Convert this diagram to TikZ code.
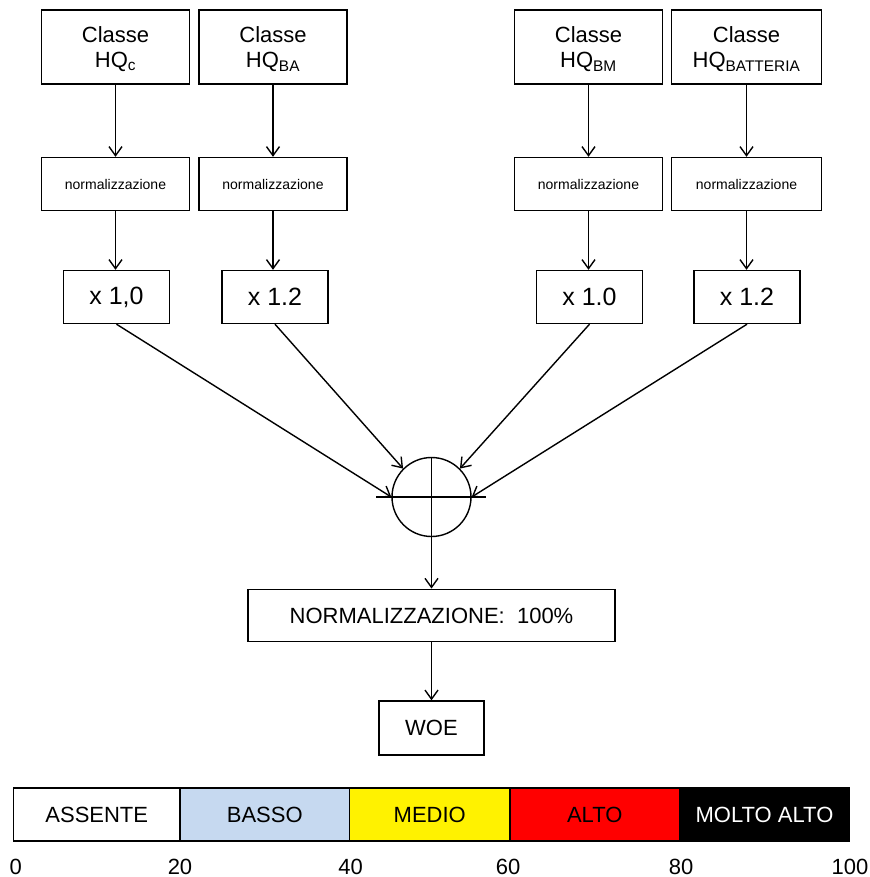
\documentclass[tikz,border=0pt]{standalone}
\usepackage{fontspec}
\setmainfont{Liberation Sans}
\usetikzlibrary{arrows.meta}
\definecolor{azzurro}{RGB}{198,217,240}
\begin{document}
\begin{tikzpicture}[x=1pt,y=-1pt,line width=1.4pt,>={Straight Barb[length=9pt,width=13pt]},font=\fontsize{22}{25.5}\selectfont,
	classe/.style={draw,align=center,minimum width=148pt,minimum height=74pt,inner sep=0pt,text depth=0pt},
	normbox/.style={draw,minimum width=148pt,minimum height=53pt,font=\fontsize{14}{16}\selectfont},
	pesobox/.style={draw,minimum width=106pt,minimum height=53pt,font=\fontsize{25}{30}\selectfont}]
	\useasboundingbox (0,0) rectangle (869,877);
	% classi
	\node[classe] (hqc) at (115.5,47) {Classe\\HQ\textsubscript{c}};
	\node[classe] (hqba) at (273,47) {Classe\\HQ\textsubscript{BA}};
	\node[classe] (hqbm) at (588.5,47) {Classe\\HQ\textsubscript{BM}};
	\node[classe,minimum width=150pt] (hqbat) at (746.5,47) {Classe\\HQ\textsubscript{BATTERIA}};
	% normalizzazione
	\node[normbox] (nc) at (115.5,184) {normalizzazione};
	\node[normbox] (nba) at (273,184) {normalizzazione};
	\node[normbox] (nbm) at (588.5,184) {normalizzazione};
	\node[normbox,minimum width=150pt] (nbat) at (746.5,184) {normalizzazione};
	% pesi
	\node[pesobox] (pc) at (116.5,297) {x 1,0};
	\node[pesobox] (pba) at (275,297) {x 1.2};
	\node[pesobox] (pbm) at (589.5,297) {x 1.0};
	\node[pesobox] (pbat) at (747,297) {x 1.2};
	\foreach \a/\b/\c in {hqc/nc/pc,hqba/nba/pba,hqbm/nbm/pbm,hqbat/nbat/pbat}{
		\draw[->] (\a) -- (\b);
		\draw[->] (\b) -- (\b |- \c.north);
	}
	% somma
	\node[draw,circle,minimum size=79pt,inner sep=0pt] (sum) at (431.5,497) {};
	\draw ([xshift=-15pt]sum.west) -- ([xshift=14pt]sum.east);
	\draw (sum.north) -- (sum.south);
	\draw[->] (pc.south) -- (sum.180);
	\draw[->] (pba.south) -- (sum.135);
	\draw[->] (pbm.south) -- (sum.45);
	\draw[->] (pbat.south) -- (sum.0);
	\node[draw,minimum width=367pt,minimum height=52.5pt] (tot) at (431.5,615.5) {NORMALIZZAZIONE:~~100\%};
	\node[draw,minimum width=105pt,minimum height=54pt] (woe) at (431.5,728) {WOE};
	\draw[->] (sum.south) -- (tot);
	\draw[->] (tot) -- (woe);
	% scala
	\foreach \a/\b/\col/\tc/\txt [count=\i] in {13.5/180/white/black/ASSENTE,180/349.5/azzurro/black/BASSO,349.5/510/yellow/black/MEDIO,510/679.5/red/black/ALTO,679.5/849.5/black/white/MOLTO ALTO}
		\draw[fill=\col] (\a,788) rectangle (\b,841) node[midway,text=\tc] (liv\i) {\txt};
	\foreach \x/\v in {15.8/0,180/20,350.5/40,508/60,681/80,850/100}
		\node[inner sep=0.5pt] (t\v) at (\x,866.5) {\v};
\end{tikzpicture}
\end{document}
